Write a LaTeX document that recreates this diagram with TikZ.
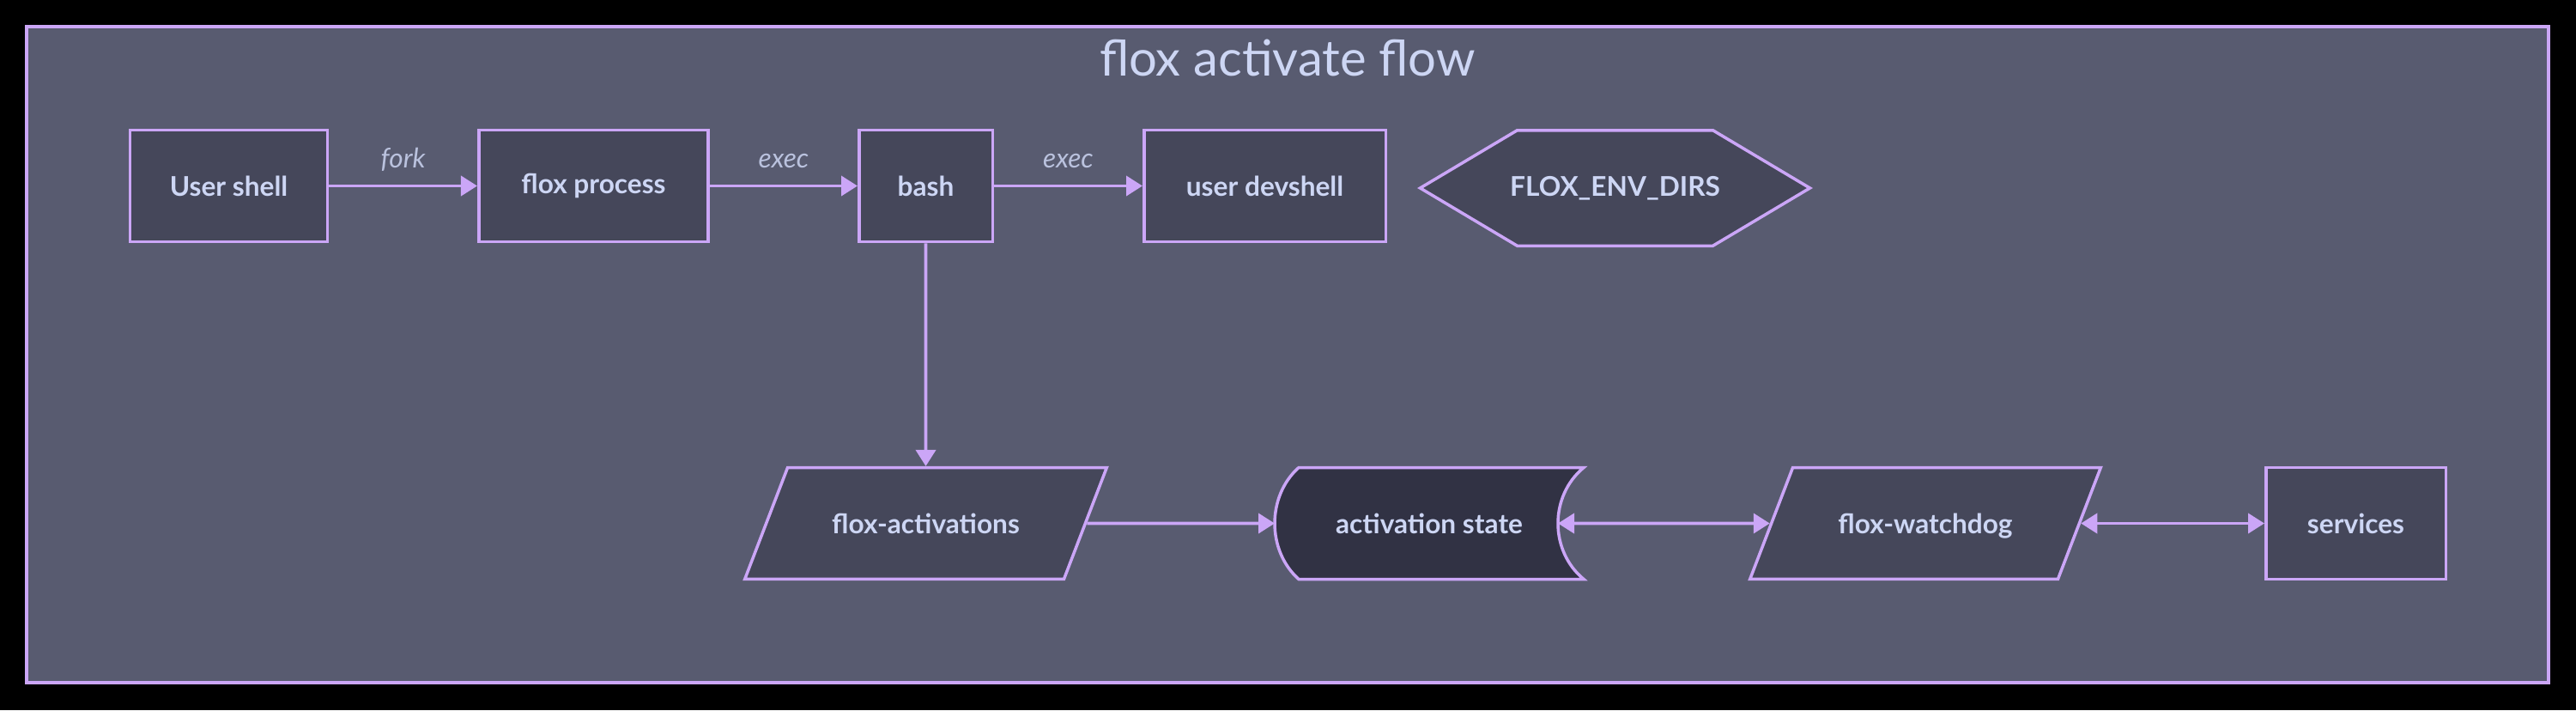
\documentclass[tikz,border=0pt]{standalone}
\usepackage{fontspec}
\setmainfont{Lato}
\usetikzlibrary{arrows.meta,shapes.geometric,backgrounds}

\definecolor{mauve}{HTML}{CBA6F7}
\definecolor{surfa}{HTML}{45475A}
\definecolor{surfb}{HTML}{585B70}
\definecolor{surfz}{HTML}{313244}
\definecolor{txt}{HTML}{CDD6F4}
\definecolor{subtxt}{HTML}{BAC2DE}

\tikzset{
  box/.style={draw=mauve, fill=surfa, line width=1pt, text=txt, inner sep=0pt,
    font=\fontsize{9}{11}\selectfont\bfseries, minimum height=1.30cm},
  proc/.style={box, rectangle},
  para/.style={box, trapezium, trapezium left angle=69, trapezium right angle=111,
    trapezium stretches body, minimum height=0pt, text height=7pt, text depth=0.3pt,
    inner ysep=0.52cm},
  store/.style={box, rectangle, draw=none, fill=none, outer sep=0pt},
  outline/.style={draw=mauve, line width=1pt},
  flow/.style={draw=mauve, line width=1.1pt, -{Triangle[length=0.19cm,width=0.23cm]}},
  both/.style={draw=mauve, line width=1.1pt,
    {Triangle[length=0.19cm,width=0.23cm]}-{Triangle[length=0.19cm,width=0.23cm]}},
  elabel/.style={text=subtxt, font=\fontsize{9}{11}\selectfont\itshape, inner sep=0pt,
    anchor=base, yshift=0.215cm}
}

\begin{document}
\begin{tikzpicture}
  \useasboundingbox (0,0) rectangle (30.01,8.27);
  \begin{scope}[on background layer]
    \fill[black] (0,0) rectangle (30.01,8.27);
    \draw[mauve, fill=surfb, line width=1pt] (0.31,0.32) rectangle (29.69,7.96);
  \end{scope}
  \node[text=txt, font=\fontsize{16.5}{20}\selectfont, anchor=base] (title) at (15.0,7.39) {flox activate flow};

  % top row
  \node[proc, minimum width=2.30cm] (us) at (2.665,6.105) {User shell};
  \node[proc, minimum width=2.675cm] (fp) at (6.915,6.105) {flox process};
  \node[proc, minimum width=1.555cm] (bash) at (10.785,6.105) {bash};
  \node[proc, minimum width=2.815cm] (uds) at (14.735,6.105) {user devshell};
  \node[store, minimum width=4.54cm, minimum height=1.345cm] (env) at (18.815,6.08) {FLOX\_ENV\_DIRS};

  % bottom row
  \node[para, minimum width=4.215cm] (act) at (10.785,2.175) {flox-activations};
  \node[store, minimum width=3.60cm] (st) at (16.65,2.175) {activation state};
  \node[para, minimum width=4.085cm] (wd) at (22.43,2.175) {flox-watchdog};
  \node[proc, minimum width=2.095cm] (svc) at (27.445,2.175) {services};
  \coordinate (st-r) at ([xshift=-0.3cm]st.east);

  \begin{scope}[on background layer]
    \draw[outline, fill=surfa] (env.west) -- ([xshift=1.13cm]env.north west) -- ([xshift=-1.13cm]env.north east)
      -- (env.east) -- ([xshift=-1.13cm]env.south east) -- ([xshift=1.13cm]env.south west) -- cycle;
    \draw[outline, fill=surfz]
      ([xshift=0.28cm]st.north west) .. controls +(-0.373,-0.33) and +(-0.373,0.33) .. ([xshift=0.28cm]st.south west)
      -- (st.south east) .. controls +(-0.4,0.33) and +(-0.4,-0.33) .. (st.north east) -- cycle;
  \end{scope}

  % connectors
  \draw[flow] (us) -- node[elabel] {fork} (fp);
  \draw[flow] (fp) -- node[elabel] {exec} (bash);
  \draw[flow] (bash) -- node[elabel] {exec} (uds);
  \draw[flow] (bash) -- (act);
  \draw[flow] (act) -- (st);
  \draw[both] (st-r) -- (wd);
  \draw[both] (wd) -- (svc);
\end{tikzpicture}
\end{document}
